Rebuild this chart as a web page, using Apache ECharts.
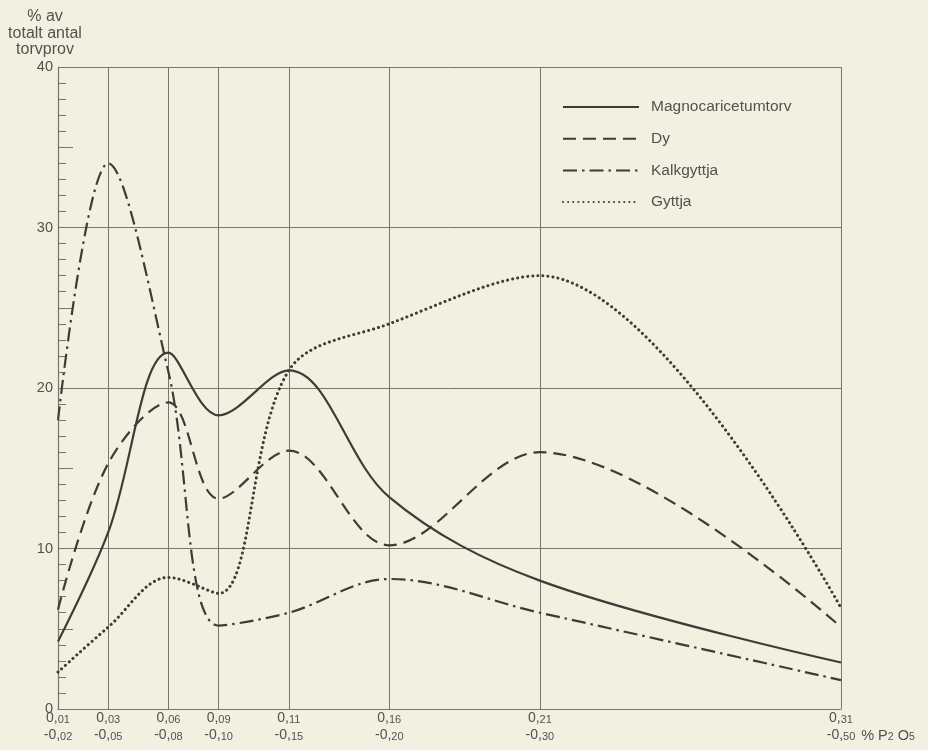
<!DOCTYPE html>
<html><head><meta charset="utf-8">
<script src="https://cdn.jsdelivr.net/npm/echarts@6/dist/echarts.min.js"></script>
<style>html,body{margin:0;padding:0;background:#f2f0e1;} #c{width:928px;height:750px;}</style>
</head><body><div id="c"></div>
<script>
// P2O5 classes (% P2O5): lower and upper bounds of each class
const rangeLow  = [0.01, 0.03, 0.06, 0.09, 0.11, 0.16, 0.21, 0.31];
const rangeHigh = [0.02, 0.05, 0.08, 0.10, 0.15, 0.20, 0.30, 0.50];
const tickTop    = ['0,01', '0,03', '0,06', '0,09', '0,11', '0,16', '0,21', '0,31'];
const tickBottom = ['-0,02', '-0,05', '-0,08', '-0,10', '-0,15', '-0,20', '-0,30', '-0,50'];
const seriesNames = ['Magnocaricetumtorv', 'Dy', 'Kalkgyttja', 'Gyttja'];
// % of total number of samples
const magno  = [4.2, 11.0, 22.2, 18.3, 21.1, 13.2, 8.0, 2.9];
const dy     = [6.2, 15.3, 19.1, 13.1, 16.1, 10.2, 16.0, 5.1];
const kalk   = [18.0, 34.0, 21.0, 5.2, 6.0, 8.1, 6.0, 1.8];
const gyttja = [2.3, 5.1, 8.2, 7.2, 21.1, 24.0, 27.0, 6.3];
const yMax = 40;

const mids = rangeLow.map((l, i) => +((l + rangeHigh[i]) / 2).toFixed(4));
const ink = '#3c3c39';
const txt = '#52524f';
const gridC = '#76766c';
const font = 'Liberation Sans';

function splitNum(s) {
  const k = s.indexOf(',') + 1;
  return '{n|' + s.slice(0, k) + '}{s|' + s.slice(k) + '}';
}
function labelFor(v) {
  const i = mids.findIndex(m => Math.abs(m - v) < 1e-6);
  if (i < 0) return '';
  return splitNum(tickTop[i]) + '\n' + splitNum(tickBottom[i]);
}
const pairs = arr => arr.map((v, i) => [mids[i], v]);

const styles = [
  { type: 'solid', width: 2.2 },
  { type: [13, 7], width: 2.2 },
  { type: [14, 5, 2.5, 5], width: 2.2 },
  { type: [0.1, 5], width: 3, cap: 'round' }
];
const dataSets = [magno, dy, kalk, gyttja];

const chart = echarts.init(document.getElementById('c'), null, { renderer: 'canvas' });
const option = {
  backgroundColor: '#f2f0e1',
  animation: false,
  textStyle: { fontFamily: font },
  grid: { left: 58, right: 87, top: 67, bottom: 41, containLabel: false },
  legend: {
    orient: 'vertical', left: 562, top: 97, padding: 0,
    itemWidth: 76, itemHeight: 18, itemGap: 11.7,
    itemStyle: { opacity: 0 },
    textStyle: { color: txt, fontSize: 15.5, fontFamily: font, padding: [0, 0, 0, 7], lineHeight: 20 },
    data: seriesNames
  },
  xAxis: {
    type: 'value', min: mids[0], max: mids[mids.length - 1],
    splitLine: { show: true, lineStyle: { color: gridC, width: 1 } },
    axisTick: { show: false, customValues: mids },
    axisLine: { lineStyle: { color: gridC, width: 1.2 } },
    axisLabel: {
      customValues: mids, showMinLabel: true, showMaxLabel: true, margin: -1,
      formatter: labelFor,
      rich: {
        n: { fontSize: 14, color: txt, fontFamily: font, verticalAlign: 'bottom', lineHeight: 17 },
        s: { fontSize: 11, color: txt, fontFamily: font, verticalAlign: 'bottom', lineHeight: 17 }
      }
    },
    name: '{a|% P}{b|2}{a| O}{b|5}',
    nameLocation: 'end', nameGap: 15,
    nameTextStyle: {
      verticalAlign: 'top', align: 'left', padding: [16, 0, 0, 0],
      rich: {
        a: { fontSize: 14.5, color: txt, fontFamily: font, verticalAlign: 'bottom', lineHeight: 18 },
        b: { fontSize: 10.5, color: txt, fontFamily: font, verticalAlign: 'bottom', lineHeight: 14 }
      }
    }
  },
  yAxis: [
    {
      type: 'value', min: 0, max: yMax, interval: 10,
      axisLine: { show: true, lineStyle: { color: gridC, width: 1.2 } },
      axisTick: { show: true, inside: true, length: 8, lineStyle: { color: gridC } },
      minorTick: { show: true, splitNumber: 10, length: 8, lineStyle: { color: gridC, width: 1 } },
      splitLine: { show: true, lineStyle: { color: gridC, width: 1 } },
      axisLabel: { color: txt, fontSize: 14.5, margin: 5, fontFamily: font },
      name: '% av\ntotalt antal\ntorvprov',
      nameLocation: 'end', nameGap: 9,
      nameTextStyle: { color: txt, fontSize: 16, lineHeight: 16.5, align: 'center', padding: [0, 26, 0, 0], fontFamily: font }
    },
    {
      type: 'value', min: 0, max: yMax, interval: 5, position: 'left',
      axisLine: { show: false },
      axisTick: { show: true, inside: true, length: 15, lineStyle: { color: gridC } },
      splitLine: { show: false },
      axisLabel: { show: false }
    }
  ],
  series: dataSets.map((d, i) => ({
    type: 'line', name: seriesNames[i], data: pairs(d),
    smooth: 0.35, symbol: 'none', z: 3,
    lineStyle: Object.assign({ color: ink }, styles[i]),
    itemStyle: { color: ink }
  }))
};
chart.setOption(option);
</script></body></html>
